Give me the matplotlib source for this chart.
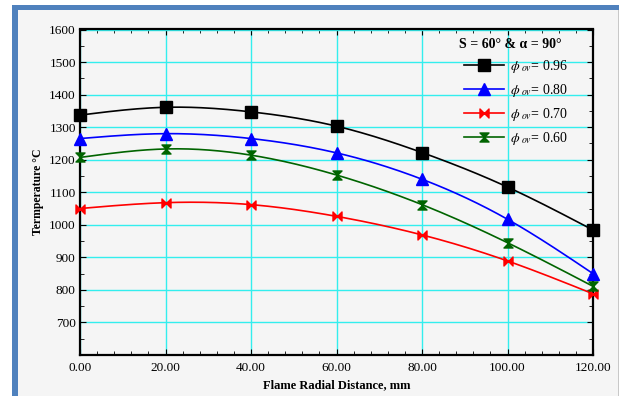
import numpy as np
import matplotlib
matplotlib.use("Agg")
import matplotlib.pyplot as plt
from matplotlib.path import Path
from matplotlib.patches import Rectangle
from matplotlib.ticker import MultipleLocator, FormatStrFormatter

# flame radial distance (mm) and measured temperatures (deg C)
dist = [0, 20, 40, 60, 80, 100, 120]
t_096 = [1337, 1361, 1347, 1303, 1222, 1116, 984]
t_080 = [1265, 1280, 1265, 1221, 1140, 1017, 850]
t_070 = [1050, 1068, 1062, 1026, 969, 889, 788]
t_060 = [1207, 1233, 1214, 1153, 1062, 945, 811]
phi_labels = ["0.96", "0.80", "0.70", "0.60"]


def smooth(x, y, n=200):
    # natural cubic spline through the points, only used to draw the line
    x = np.asarray(x, float)
    y = np.asarray(y, float)
    k = len(x)
    h = np.diff(x)
    A = np.zeros((k, k))
    b = np.zeros(k)
    A[0, 0] = A[-1, -1] = 1.0
    for i in range(1, k - 1):
        A[i, i - 1] = h[i - 1]
        A[i, i] = 2 * (h[i - 1] + h[i])
        A[i, i + 1] = h[i]
        b[i] = 6 * ((y[i + 1] - y[i]) / h[i] - (y[i] - y[i - 1]) / h[i - 1])
    M = np.linalg.solve(A, b)
    xs = np.linspace(x[0], x[-1], n)
    idx = np.clip(np.searchsorted(x, xs) - 1, 0, k - 2)
    x0, x1 = x[idx], x[idx + 1]
    hh = x1 - x0
    a = (x1 - xs) / hh
    c = (xs - x0) / hh
    ys = (a * y[idx] + c * y[idx + 1]
          + ((a**3 - a) * M[idx] + (c**3 - c) * M[idx + 1]) * hh**2 / 6)
    return xs, ys


# two-triangle markers
bowtie = Path([(-1, 1), (-1, -1), (0, 0), (-1, 1), (1, 1), (1, -1), (0, 0), (1, 1)],
              [Path.MOVETO, Path.LINETO, Path.LINETO, Path.CLOSEPOLY] * 2)
hourglass = Path([(-1, 1), (1, 1), (0, 0), (-1, 1), (-1, -1), (1, -1), (0, 0), (-1, -1)],
                 [Path.MOVETO, Path.LINETO, Path.LINETO, Path.CLOSEPOLY] * 2)

plt.rcParams["font.family"] = ["Liberation Serif", "DejaVu Serif"]
plt.rcParams["mathtext.fontset"] = "stix"

fig = plt.figure(figsize=(6.25, 3.96), dpi=100, facecolor="white")
W, H = 625.0, 396.0
# window-like frame behind the chart
fig.patches.append(Rectangle((18 / W, 0), 600 / W, 386 / H, transform=fig.transFigure,
                             facecolor="#f5f5f5", edgecolor="none", zorder=-3))
fig.patches.append(Rectangle((618 / W, 0), 1 / W, 386 / H, transform=fig.transFigure,
                             facecolor="#c8c8c8", edgecolor="none", zorder=-2))
fig.patches.append(Rectangle((12 / W, 0), 6 / W, 391 / H, transform=fig.transFigure,
                             facecolor="#4f81bd", edgecolor="none", zorder=-2))
fig.patches.append(Rectangle((12 / W, 386 / H), 607 / W, 5 / H, transform=fig.transFigure,
                             facecolor="#4f81bd", edgecolor="none", zorder=-2))

ax = fig.add_axes([80 / W, 41 / H, 513 / W, 325.5 / H])
ax.set_facecolor("#f5f5f5")

series = [
    (t_096, "black", "s", 8),
    (t_080, "blue", "^", 8),
    (t_070, "red", bowtie, 6.5),
    (t_060, "#006400", hourglass, 6.5),
]
for (vals, col, mk, ms), lab in zip(series, phi_labels):
    xs, ys = smooth(dist, vals)
    ax.plot(xs, ys, color=col, lw=1.2, zorder=3)
    ax.plot(dist, vals, linestyle="none", marker=mk, color=col, ms=ms,
            clip_on=False, zorder=4)
    # legend proxy: line with marker in the middle
    ax.plot([], [], color=col, lw=1.2, marker=mk, ms=ms,
            label=r"$\phi_{\ ov}$= " + lab)

ax.set_xlim(0, 120)
ax.set_ylim(600, 1600)
ax.xaxis.set_major_locator(MultipleLocator(20))
ax.xaxis.set_minor_locator(MultipleLocator(4))
ax.yaxis.set_major_locator(MultipleLocator(100))
ax.yaxis.set_minor_locator(MultipleLocator(50))
ax.xaxis.set_major_formatter(FormatStrFormatter("%.2f"))
ax.set_yticks(np.arange(700, 1601, 100))
ax.grid(True, which="major", color="#33eeee", lw=1.0, zorder=0)
ax.tick_params(which="both", direction="in", top=True, right=True, labelsize=9.5)
ax.tick_params(axis="x", which="major", length=4, pad=5)
ax.tick_params(axis="y", which="major", length=4, pad=3)
ax.tick_params(which="minor", length=3)
for sp in ax.spines.values():
    sp.set_linewidth(1.6)

ax.set_xlabel("Flame Radial Distance, mm", fontsize=9, fontweight="bold", labelpad=4)
ax.set_ylabel("Termperature \u00b0C", fontsize=8.5, fontweight="bold", labelpad=4)

leg = ax.legend(loc="upper right", bbox_to_anchor=(0.976, 1.0), frameon=False,
                fontsize=10, handlelength=2.9, numpoints=1, borderaxespad=0.2,
                labelspacing=0.5, handletextpad=0.4,
                title="S = 60\u00b0 & \u03b1 = 90\u00b0   ",
                title_fontproperties={"weight": "bold", "size": 10})
leg._legend_box.align = "center"

fig.savefig("out.png", dpi=100, facecolor=fig.get_facecolor())
